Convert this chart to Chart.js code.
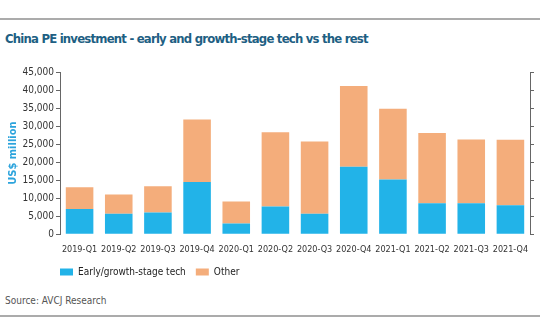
<!DOCTYPE html>
<html>
<head>
<meta charset="utf-8">
<script src="https://cdn.jsdelivr.net/npm/chart.js@4.4.1/dist/chart.umd.min.js"></script>
<style>
  body{margin:0;width:540px;height:334px;background:#fff;position:relative;overflow:hidden;font-family:"DejaVu Sans Condensed",sans-serif;}
  .rule{position:absolute;left:0;width:540px;height:2px;background:#ababab;}
  #title{position:absolute;left:5px;top:31px;font-size:13px;font-weight:bold;letter-spacing:-0.8px;color:#1e5f83;white-space:nowrap;}
  #source{position:absolute;left:5px;top:295px;font-size:10px;color:#555;}
  #wrap{position:absolute;left:0;top:55px;width:540px;height:232px;}
</style>
</head>
<body>
<div class="rule" style="top:18px"></div>
<div id="title">China PE investment - early and growth-stage tech vs the rest</div>
<div id="wrap"><canvas id="peChart"></canvas></div>
<div id="source">Source: AVCJ Research</div>
<div class="rule" style="top:315px"></div>
<script>
const quarters = ['2019-Q1','2019-Q2','2019-Q3','2019-Q4','2020-Q1','2020-Q2','2020-Q3','2020-Q4','2021-Q1','2021-Q2','2021-Q3','2021-Q4'];
const techValues = [7000, 5700, 6000, 14500, 3000, 7700, 5700, 18700, 15200, 8600, 8600, 8000];
const otherValues = [6000, 5300, 7300, 17300, 6100, 20600, 20000, 22400, 19600, 19500, 17700, 18200];
const yTicks = [0, 5000, 10000, 15000, 20000, 25000, 30000, 35000, 40000, 45000];

const fontFam = "'DejaVu Sans Condensed', sans-serif";
const yFont = {family: fontFam, size: 10};
const xFont = {family: fontFam, size: 9};

// keep legend boxes flush with the plot's left edge
const legendShift = {
  id: 'legendShift',
  beforeDraw(chart) {
    const lg = chart.legend;
    lg.left = chart.chartArea.left - lg.options.labels.padding;
  }
};

const ctx = document.getElementById('peChart');

new Chart(ctx, {
  type: 'bar',
  data: {
    labels: quarters,
    datasets: [{
      label: 'Early/growth-stage tech',
      data: techValues,
      backgroundColor: '#22b3e8',
      categoryPercentage: 0.8,
      barPercentage: 0.88
    }, {
      label: 'Other',
      data: otherValues,
      backgroundColor: '#f4ad7b',
      categoryPercentage: 0.8,
      barPercentage: 0.88
    }]
  },
  plugins: [legendShift],
  options: {
    responsive: true,
    maintainAspectRatio: false,
    animation: false,
    layout: {
      padding: {top: 17, left: 0, right: 0, bottom: 0}
    },
    plugins: {
      legend: {
        position: 'bottom',
        align: 'start',
        fullSize: false,
        labels: {
          boxWidth: 13,
          boxHeight: 7,
          padding: 10,
          color: '#222',
          font: yFont
        }
      },
      tooltip: {enabled: false}
    },
    scales: {
      x: {
        stacked: true,
        grid: {display: false},
        border: {display: false},
        ticks: {color: '#333', font: xFont, maxRotation: 0, autoSkip: false, padding: 2}
      },
      y: {
        stacked: true,
        min: 0,
        max: 45000,
        afterBuildTicks: (scale) => { scale.ticks = yTicks.map(v => ({value: v})); },
        afterFit: (scale) => { scale.width = 60; },
        title: {display: true, text: 'US$ million', color: '#2ba3dc', font: {family: fontFam, size: 11, weight: 'bold'}, padding: {top: 7, bottom: 0}},
        grid: {drawOnChartArea: false, drawTicks: true, tickLength: 4, color: '#666'},
        border: {display: true, color: '#666', width: 1},
        ticks: {color: '#333', font: yFont, padding: 2, callback: (v) => v.toLocaleString('en-US')}
      },
      y2: {
        position: 'right',
        min: 0,
        max: 45000,
        afterBuildTicks: (scale) => { scale.ticks = yTicks.map(v => ({value: v})); },
        afterFit: (scale) => { scale.width = 10; },
        grid: {drawOnChartArea: false, drawTicks: true, tickLength: 4, color: '#666'},
        border: {display: true, color: '#666', width: 1},
        ticks: {display: false}
      }
    }
  }
});
</script>
</body>
</html>
